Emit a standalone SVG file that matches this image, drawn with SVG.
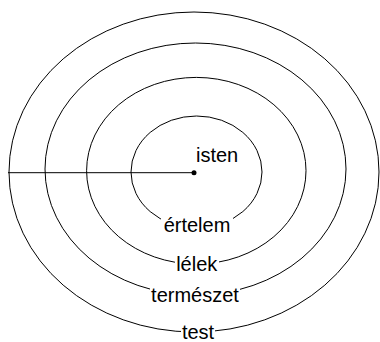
<svg xmlns="http://www.w3.org/2000/svg" width="380" height="342" viewBox="0 0 380 342">
<style>
.ring{fill:none;stroke:#000;stroke-width:1}
.lbl{font-family:"Liberation Sans",Arial,sans-serif;font-size:20px;fill:#000}
.bg{fill:#fff}
</style>
<rect width="380" height="342" fill="#fff"/>
<g id="test"><ellipse class="ring" cx="194" cy="172" rx="185" ry="160"/></g>
<g id="termeszet"><ellipse class="ring" cx="195.5" cy="169" rx="150.5" ry="126"/></g>
<g id="lelek"><ellipse class="ring" cx="196.3" cy="170.7" rx="109.7" ry="93.3"/></g>
<g id="ertelem"><ellipse class="ring" cx="196.5" cy="172" rx="65.5" ry="56"/></g>
<g id="connectors">
<line x1="8" y1="172.7" x2="194" y2="172.7" stroke="#000" stroke-width="1"/>
<circle cx="194" cy="172.7" r="2.5" fill="#000"/>
</g>
<g id="labels">
<text class="lbl" x="196" y="162">isten</text>
<rect class="bg" x="161" y="214" width="72" height="24"/>
<text class="lbl" x="197" y="231.7" text-anchor="middle">értelem</text>
<rect class="bg" x="175" y="254" width="44" height="22"/>
<text class="lbl" x="196.7" y="271" text-anchor="middle">lélek</text>
<rect class="bg" x="150" y="284" width="90" height="22"/>
<text class="lbl" x="195" y="301.7" text-anchor="middle">természet</text>
<rect class="bg" x="181" y="323" width="34" height="19"/>
<text class="lbl" x="198" y="338.5" text-anchor="middle">test</text>
</g>
</svg>
